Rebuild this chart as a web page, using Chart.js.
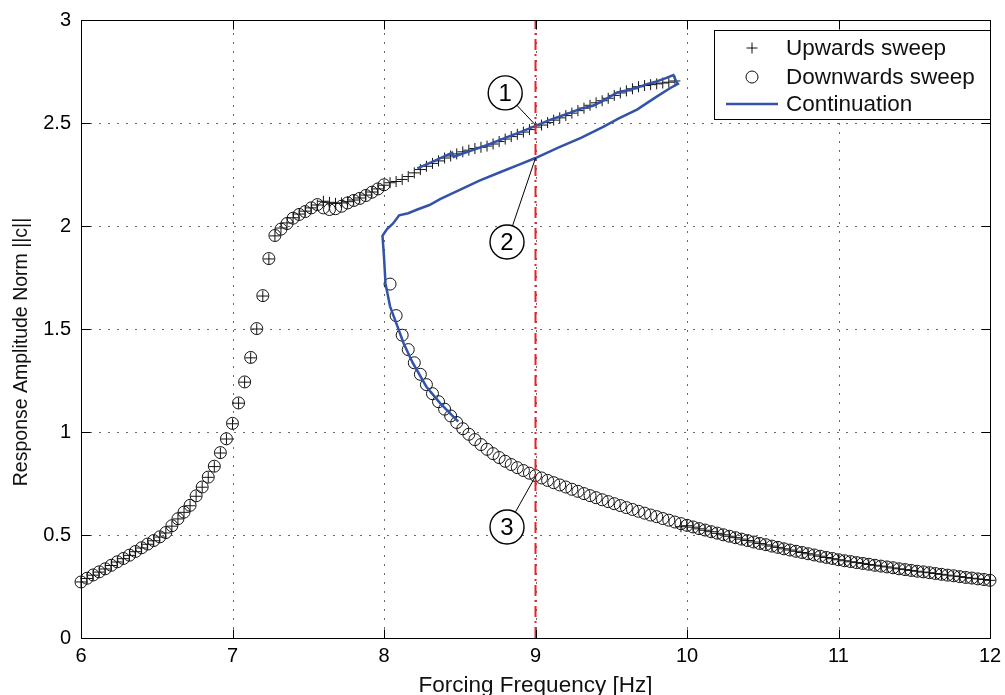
<!DOCTYPE html>
<html lang="en">
<head>
<meta charset="UTF-8">
<title>Frequency Response</title>
<style>
  body { margin: 0; background: #fff; }
  canvas { display: block; }
</style>
<script src="https://cdn.jsdelivr.net/npm/chart.js"></script>
</head>
<body>
<canvas id="freqChart" width="1005" height="695"></canvas>
<script>
// forcing frequency grid shared by both sweeps [Hz]
const freqGrid = [
  6.00, 6.04, 6.08, 6.12, 6.16, 6.20, 6.24, 6.28, 6.32, 6.36,
  6.40, 6.44, 6.48, 6.52, 6.56, 6.60, 6.64, 6.68, 6.72, 6.76,
  6.80, 6.84, 6.88, 6.92, 6.96, 7.00, 7.04, 7.08, 7.12, 7.16,
  7.20, 7.24, 7.28, 7.32, 7.36, 7.40, 7.44, 7.48, 7.52, 7.56,
  7.60, 7.64, 7.68, 7.72, 7.76, 7.80, 7.84, 7.88, 7.92, 7.96,
  8.00, 8.04, 8.08, 8.12, 8.16, 8.20, 8.24, 8.28, 8.32, 8.36,
  8.40, 8.44, 8.48, 8.52, 8.56, 8.60, 8.64, 8.68, 8.72, 8.76,
  8.80, 8.84, 8.88, 8.92, 8.96, 9.00, 9.04, 9.08, 9.12, 9.16,
  9.20, 9.24, 9.28, 9.32, 9.36, 9.40, 9.44, 9.48, 9.52, 9.56,
  9.60, 9.64, 9.68, 9.72, 9.76, 9.80, 9.84, 9.88, 9.92, 9.96,
  10.00, 10.04, 10.08, 10.12, 10.16, 10.20, 10.24, 10.28, 10.32, 10.36,
  10.40, 10.44, 10.48, 10.52, 10.56, 10.60, 10.64, 10.68, 10.72, 10.76,
  10.80, 10.84, 10.88, 10.92, 10.96, 11.00, 11.04, 11.08, 11.12, 11.16,
  11.20, 11.24, 11.28, 11.32, 11.36, 11.40, 11.44, 11.48, 11.52, 11.56,
  11.60, 11.64, 11.68, 11.72, 11.76, 11.80, 11.84, 11.88, 11.92, 11.96,
  12.00
];

// upward sweep: stays on the upper branch until ~9.9 Hz, then drops
const ampUp = [
  0.272, 0.289, 0.305, 0.320, 0.335, 0.352, 0.369, 0.385, 0.401, 0.419,
  0.437, 0.455, 0.472, 0.490, 0.510, 0.543, 0.578, 0.610, 0.642, 0.688,
  0.732, 0.780, 0.832, 0.898, 0.966, 1.040, 1.140, 1.242, 1.360, 1.500,
  1.660, 1.840, 1.952, 1.990, 2.015, 2.040, 2.058, 2.072, 2.088, 2.102,
  2.120, 2.115, 2.110, 2.112, 2.118, 2.126, 2.136, 2.150, 2.165, 2.180,
  2.198, 2.210, 2.216, 2.226, 2.240, 2.258, 2.274, 2.290, 2.304, 2.316,
  2.330, 2.340, 2.350, 2.360, 2.368, 2.376, 2.382, 2.388, 2.398, 2.410,
  2.422, 2.434, 2.445, 2.456, 2.468, 2.480, 2.490, 2.502, 2.514, 2.525,
  2.536, 2.548, 2.560, 2.572, 2.586, 2.598, 2.608, 2.620, 2.634, 2.646,
  2.656, 2.666, 2.676, 2.682, 2.686, 2.690, 2.694, 2.698, 2.704, 0.540,
  0.545, 0.538, 0.530, 0.523, 0.516, 0.508, 0.501, 0.494, 0.487, 0.480,
  0.473, 0.466, 0.459, 0.452, 0.446, 0.440, 0.433, 0.427, 0.421, 0.415,
  0.409, 0.403, 0.397, 0.391, 0.385, 0.380, 0.375, 0.370, 0.366, 0.362,
  0.357, 0.353, 0.349, 0.345, 0.340, 0.336, 0.332, 0.328, 0.324, 0.320,
  0.317, 0.313, 0.309, 0.305, 0.301, 0.298, 0.294, 0.290, 0.287, 0.284,
  0.280
];

// downward sweep: lower branch down to ~8.04 Hz, then jumps up
const ampDown = [
  0.272, 0.290, 0.306, 0.321, 0.336, 0.353, 0.370, 0.386, 0.402, 0.420,
  0.438, 0.456, 0.473, 0.491, 0.512, 0.545, 0.579, 0.611, 0.644, 0.690,
  0.733, 0.781, 0.834, 0.900, 0.967, 1.042, 1.141, 1.243, 1.362, 1.502,
  1.662, 1.842, 1.954, 1.985, 2.012, 2.038, 2.056, 2.070, 2.088, 2.104,
  2.088, 2.080, 2.084, 2.096, 2.112, 2.124, 2.134, 2.148, 2.164, 2.180,
  2.200, 1.718, 1.565, 1.470, 1.400, 1.336, 1.280, 1.230, 1.186, 1.147,
  1.111, 1.078, 1.046, 1.016, 0.989, 0.963, 0.939, 0.916, 0.895, 0.876,
  0.858, 0.842, 0.827, 0.813, 0.800, 0.788, 0.777, 0.765, 0.754, 0.743,
  0.733, 0.722, 0.712, 0.701, 0.691, 0.681, 0.671, 0.662, 0.652, 0.643,
  0.633, 0.624, 0.615, 0.606, 0.597, 0.589, 0.580, 0.572, 0.563, 0.555,
  0.547, 0.539, 0.531, 0.524, 0.516, 0.509, 0.501, 0.494, 0.487, 0.480,
  0.473, 0.466, 0.459, 0.453, 0.446, 0.440, 0.433, 0.427, 0.421, 0.415,
  0.409, 0.403, 0.397, 0.391, 0.386, 0.380, 0.375, 0.371, 0.366, 0.362,
  0.358, 0.353, 0.349, 0.345, 0.341, 0.336, 0.332, 0.328, 0.324, 0.321,
  0.317, 0.313, 0.309, 0.305, 0.302, 0.298, 0.294, 0.291, 0.287, 0.284,
  0.280
];

// numerical continuation: stable upper, unstable middle, stable lower
const contFreq = [
  8.22, 8.30, 8.38, 8.45, 8.46, 8.52, 8.60, 8.70, 8.80, 8.90,
  9.00, 9.10, 9.23, 9.30, 9.38, 9.45, 9.54, 9.60, 9.67, 9.74,
  9.80, 9.86, 9.91, 9.93, 9.94,
  9.89, 9.80, 9.67, 9.55, 9.45, 9.30, 9.15, 9.00, 8.90, 8.77,
  8.63, 8.50, 8.37, 8.30, 8.22, 8.16, 8.10, 8.06, 8.02, 7.99,
  8.00, 8.01, 8.04, 8.09, 8.13, 8.19, 8.28, 8.37, 8.43, 8.49
];
const contAmp = [
  2.280, 2.305, 2.332, 2.356, 2.336, 2.352, 2.372, 2.398, 2.428, 2.456,
  2.486, 2.516, 2.550, 2.570, 2.584, 2.610, 2.648, 2.658, 2.672, 2.690,
  2.702, 2.718, 2.733, 2.700, 2.690,
  2.670, 2.628, 2.565, 2.522, 2.482, 2.428, 2.380, 2.330, 2.300, 2.262,
  2.220, 2.175, 2.130, 2.102, 2.080, 2.062, 2.052, 2.012, 1.985, 1.952,
  1.850, 1.720, 1.610, 1.510, 1.430, 1.335, 1.220, 1.140, 1.095, 1.050
];

const xTicks = [6, 7, 8, 9, 10, 11, 12];
const yTicks = [0, 0.5, 1, 1.5, 2, 2.5, 3];
const markFreq = 9;

const xTitle = 'Forcing Frequency [Hz]';
const yTitle = 'Response Amplitude Norm ||c||';

// numbered callouts pointing at the three states at 9 Hz
const callouts = [
  { text: '1', cx: 8.80, cy: 2.646, tx: 9.0, ty: 2.49 },
  { text: '2', cx: 8.812, cy: 1.922, tx: 9.0, ty: 2.33 },
  { text: '3', cx: 8.812, cy: 0.539, tx: 9.0, ty: 0.785 }
];

const FONT = '"Liberation Sans", Arial, Helvetica, sans-serif';
const INK = '#111';

function toPoints(xs, ys) {
  return xs.map((x, i) => ({ x: x, y: ys[i] }));
}

// dotted grid, box and inward ticks
const frame = {
  id: 'frame',
  beforeDatasetsDraw(chart) {
    const { ctx, chartArea: a, scales: { x, y } } = chart;
    ctx.save();
    ctx.strokeStyle = '#6a6a6a';
    ctx.lineWidth = 1;
    ctx.setLineDash([2, 7]);
    x.ticks.forEach(t => {
      const px = Math.round(x.getPixelForValue(t.value)) + 0.5;
      if (px <= a.left + 2 || px >= a.right - 2) return;
      ctx.beginPath();
      ctx.moveTo(px, a.bottom);
      ctx.lineTo(px, a.top);
      ctx.stroke();
    });
    y.ticks.forEach(t => {
      const py = Math.round(y.getPixelForValue(t.value)) + 0.5;
      if (py <= a.top + 2 || py >= a.bottom - 2) return;
      ctx.beginPath();
      ctx.moveTo(a.left, py);
      ctx.lineTo(a.right, py);
      ctx.stroke();
    });
    ctx.restore();
  },
  afterDatasetsDraw(chart) {
    const { ctx, chartArea: a, scales: { x, y } } = chart;
    const len = 9;
    const l = Math.round(a.left) + 0.5, r = Math.round(a.right) + 0.5;
    const t = Math.round(a.top) + 0.5, b = Math.round(a.bottom) + 0.5;
    ctx.save();
    ctx.strokeStyle = '#000';
    ctx.lineWidth = 1;
    ctx.setLineDash([]);
    ctx.strokeRect(l, t, r - l, b - t);
    ctx.beginPath();
    x.ticks.forEach(tk => {
      const px = Math.round(x.getPixelForValue(tk.value)) + 0.5;
      ctx.moveTo(px, b); ctx.lineTo(px, b - len);
      ctx.moveTo(px, t); ctx.lineTo(px, t + len);
    });
    y.ticks.forEach(tk => {
      const py = Math.round(y.getPixelForValue(tk.value)) + 0.5;
      ctx.moveTo(l, py); ctx.lineTo(l + len, py);
      ctx.moveTo(r, py); ctx.lineTo(r - len, py);
    });
    ctx.stroke();

    // axis titles
    ctx.fillStyle = '#111';
    ctx.textAlign = 'center';
    ctx.textBaseline = 'middle';
    ctx.font = '22.5px ' + FONT;
    ctx.fillText(xTitle, (a.left + a.right) / 2, 686);
    ctx.translate(22, 352);
    ctx.rotate(-Math.PI / 2);
    ctx.font = '19.5px ' + FONT;
    ctx.fillText(yTitle, 0, 0);
    ctx.restore();
  }
};

// circled numbers with leader lines
const calloutMarks = {
  id: 'calloutMarks',
  afterDraw(chart) {
    const { ctx, scales: { x, y } } = chart;
    const rad = 17;
    ctx.save();
    callouts.forEach(c => {
      const cx = x.getPixelForValue(c.cx), cy = y.getPixelForValue(c.cy);
      const tx = x.getPixelForValue(c.tx), ty = y.getPixelForValue(c.ty);
      const d = Math.hypot(tx - cx, ty - cy);
      ctx.strokeStyle = '#000';
      ctx.lineWidth = 1;
      ctx.beginPath();
      ctx.moveTo(cx + (tx - cx) * rad / d, cy + (ty - cy) * rad / d);
      ctx.lineTo(tx, ty);
      ctx.stroke();
      ctx.beginPath();
      ctx.arc(cx, cy, rad, 0, Math.PI * 2);
      ctx.fillStyle = '#fff';
      ctx.fill();
      ctx.lineWidth = 1.4;
      ctx.stroke();
      ctx.fillStyle = '#000';
      ctx.font = '24px ' + FONT;
      ctx.textAlign = 'center';
      ctx.textBaseline = 'middle';
      ctx.fillText(c.text, cx, cy + 1);
    });
    ctx.restore();
  }
};

// boxed legend inside the top-right corner of the axes
const boxLegend = {
  id: 'boxLegend',
  afterDraw(chart) {
    const { ctx, chartArea: a } = chart;
    const w = 276, h = 89;
    const left = Math.round(a.right) - w, top = Math.round(a.top) + 10;
    ctx.save();
    ctx.fillStyle = '#fff';
    ctx.fillRect(left, top, w, h);
    ctx.strokeStyle = '#000';
    ctx.lineWidth = 1;
    ctx.strokeRect(left + 0.5, top + 0.5, w, h);
    const items = chart.data.datasets.filter(ds => ds.label);
    const rows = [18, 47, 74];
    items.forEach((ds, i) => {
      const yy = top + rows[i];
      ctx.strokeStyle = ds.borderColor;
      ctx.fillStyle = 'rgba(0,0,0,0)';
      if (ds.showLine) {
        ctx.lineWidth = ds.borderWidth;
        ctx.beginPath();
        ctx.moveTo(left + 12, yy);
        ctx.lineTo(left + 64, yy);
        ctx.stroke();
      } else {
        ctx.lineWidth = ds.pointBorderWidth;
        Chart.helpers.drawPoint(ctx, {
          pointStyle: ds.pointStyle, radius: ds.pointRadius,
          rotation: 0, borderWidth: ds.pointBorderWidth
        }, left + 38, yy);
      }
      ctx.fillStyle = '#111';
      ctx.font = '22.5px ' + FONT;
      ctx.textAlign = 'left';
      ctx.textBaseline = 'middle';
      ctx.fillText(ds.label, left + 72, yy + 1);
    });
    ctx.restore();
  }
};

new Chart(document.getElementById('freqChart'), {
  type: 'scatter',
  data: {
    datasets: [
      {
        label: 'Upwards sweep',
        data: toPoints(freqGrid, ampUp),
        showLine: false,
        pointStyle: 'cross',
        pointRadius: 5.5,
        pointBorderWidth: 1,
        borderColor: INK,
        backgroundColor: 'rgba(0,0,0,0)',
        clip: false,
        order: 2
      },
      {
        label: 'Downwards sweep',
        data: toPoints(freqGrid, ampDown),
        showLine: false,
        pointStyle: 'circle',
        pointRadius: 6,
        pointBorderWidth: 1,
        borderColor: INK,
        backgroundColor: 'rgba(0,0,0,0)',
        clip: false,
        order: 3
      },
      {
        label: 'Continuation',
        data: toPoints(contFreq, contAmp),
        showLine: true,
        borderColor: '#3353a8',
        borderWidth: 2.5,
        pointRadius: 0,
        tension: 0,
        clip: false,
        order: 1
      },
      {
        data: [{ x: markFreq, y: 0 }, { x: markFreq, y: 3 }],
        showLine: true,
        borderColor: '#e5232b',
        borderWidth: 2,
        borderDash: [11, 4, 2, 4],
        pointRadius: 0,
        order: 0
      }
    ]
  },
  options: {
    responsive: false,
    animation: false,
    events: [],
    layout: { padding: { top: 20, right: 15, left: 0, bottom: 0 } },
    plugins: {
      legend: { display: false },
      tooltip: { enabled: false }
    },
    scales: {
      x: {
        type: 'linear',
        min: 6,
        max: 12,
        afterBuildTicks: s => { s.ticks = xTicks.map(v => ({ value: v })); },
        afterFit: s => { s.height = 57; s.paddingLeft = 0; s.paddingRight = 0; },
        grid: { display: false },
        border: { display: false },
        ticks: { color: '#000', padding: -2, font: { family: FONT, size: 20 } }
      },
      y: {
        type: 'linear',
        min: 0,
        max: 3,
        afterBuildTicks: s => { s.ticks = yTicks.map(v => ({ value: v })); },
        afterFit: s => { s.width = 81; s.paddingTop = 0; s.paddingBottom = 0; },
        grid: { display: false },
        border: { display: false },
        ticks: {
          color: '#000',
          padding: 2,
          font: { family: FONT, size: 20 },
          callback: v => String(v)
        }
      }
    }
  },
  plugins: [frame, calloutMarks, boxLegend]
});
</script>
</body>
</html>
